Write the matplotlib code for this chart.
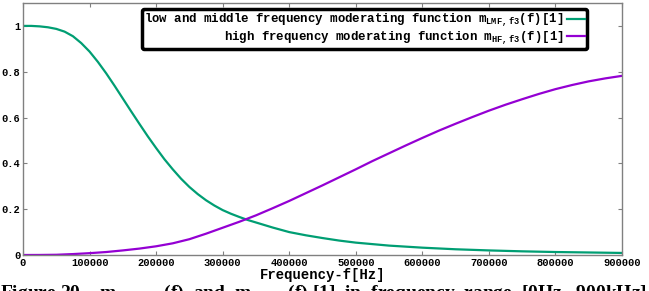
import matplotlib
matplotlib.use("Agg")
import matplotlib.pyplot as plt

# === DATA ===
freq_lmf = [0, 12500, 25000, 37500, 50000, 62500, 75000, 87500, 100000,
            112500, 125000, 137500, 150000, 162500, 175000, 187500, 200000,
            212500, 225000, 237500, 250000, 262500, 275000, 287500, 300000,
            312500, 325000, 337500, 350000, 375000, 400000, 425000, 450000,
            475000, 500000, 550000, 600000, 650000, 700000, 750000, 800000,
            850000, 900000]
m_lmf = [1.0, 1.0, 0.998, 0.994, 0.987, 0.975, 0.955, 0.925, 0.888,
         0.843, 0.793, 0.739, 0.683, 0.627, 0.572, 0.518, 0.467,
         0.418, 0.374, 0.333, 0.297, 0.266, 0.239, 0.216, 0.196,
         0.18, 0.166, 0.153, 0.142, 0.12, 0.1, 0.086, 0.074,
         0.063, 0.054, 0.041, 0.032, 0.025, 0.02, 0.016, 0.013,
         0.011, 0.009]
freq_hf = [0, 25000, 50000, 75000, 100000, 125000, 150000, 175000, 200000,
           225000, 250000, 275000, 300000, 325000, 350000, 375000, 400000,
           425000, 450000, 475000, 500000, 525000, 550000, 575000, 600000,
           625000, 650000, 675000, 700000, 725000, 750000, 775000, 800000,
           825000, 850000, 875000, 900000]
m_hf = [0.0, 0.0002, 0.001, 0.004, 0.008, 0.013, 0.02, 0.028, 0.038,
        0.051, 0.069, 0.093, 0.119, 0.145, 0.173, 0.204, 0.236,
        0.27, 0.304, 0.339, 0.374, 0.41, 0.444, 0.478, 0.511,
        0.543, 0.573, 0.602, 0.63, 0.656, 0.68, 0.703, 0.724,
        0.742, 0.758, 0.771, 0.782]
x_ticks = [0, 100000, 200000, 300000, 400000, 500000, 600000, 700000, 800000, 900000]
y_ticks = [0, 0.2, 0.4, 0.6, 0.8, 1]
y_tick_labels = ['0', '0.2', '0.4', '0.6', '0.8', '1']
label_lmf = r'low and middle frequency moderating function m$_{\mathregular{LMF,f3}}$(f)[1]'
label_hf = r'high frequency moderating function m$_{\mathregular{HF,f3}}$(f)[1]'
x_label = 'Frequency-f[Hz]'
caption = (r'Figure 20    m$_{\mathregular{LMF,f3}}$(f)  and  m$_{\mathregular{HF,f3}}$(f) [1]'
           r'  in  frequency  range  [0Hz,  900kHz]')

mono = 'Liberation Mono'
grey = '#808080'

fig = plt.figure(figsize=(6.49, 2.91), dpi=100)
ax = fig.add_axes([23 / 649, 1 - 255 / 291, 599 / 649, 252 / 291])

ax.plot(freq_lmf, m_lmf, color='#009e73', lw=1.6, label=label_lmf)
ax.plot(freq_hf, m_hf, color='#9400d3', lw=1.6, label=label_hf)

ax.set_xlim(0, 900000)
ax.set_ylim(0, 1.1)
ax.set_xticks(x_ticks)
ax.set_xticklabels([str(t) for t in x_ticks], fontfamily=mono, fontweight='bold', fontsize=7.5)
ax.set_yticks(y_ticks)
ax.set_yticklabels(y_tick_labels, fontfamily=mono, fontweight='bold', fontsize=7.5)
ax.tick_params(direction='in', length=3, width=0.8, color=grey, pad=2,
               top=True, right=True)
for s in ax.spines.values():
    s.set_color(grey)
    s.set_linewidth(1.0)

ax.set_xlabel(x_label, fontfamily=mono, fontweight='bold', fontsize=10, labelpad=0)

leg = ax.legend(loc='upper right', bbox_to_anchor=((587 - 23) / 599, (255 - 9) / 252),
                borderaxespad=0, markerfirst=False, handlelength=1.4, handletextpad=0.3,
                labelspacing=0.0, borderpad=0.2, fancybox=True, framealpha=1,
                prop={'family': mono, 'weight': 'bold', 'size': 8.9})
leg.get_frame().set_edgecolor('black')
leg.get_frame().set_linewidth(2.5)

# caption below the chart, cut at the bottom edge as in the source image
fig.text(0.0, 1 - 283 / 291, caption, ha='left', va='top',
         fontfamily='Liberation Serif', fontweight='bold', fontsize=14)

fig.savefig('out.png', dpi=100)
